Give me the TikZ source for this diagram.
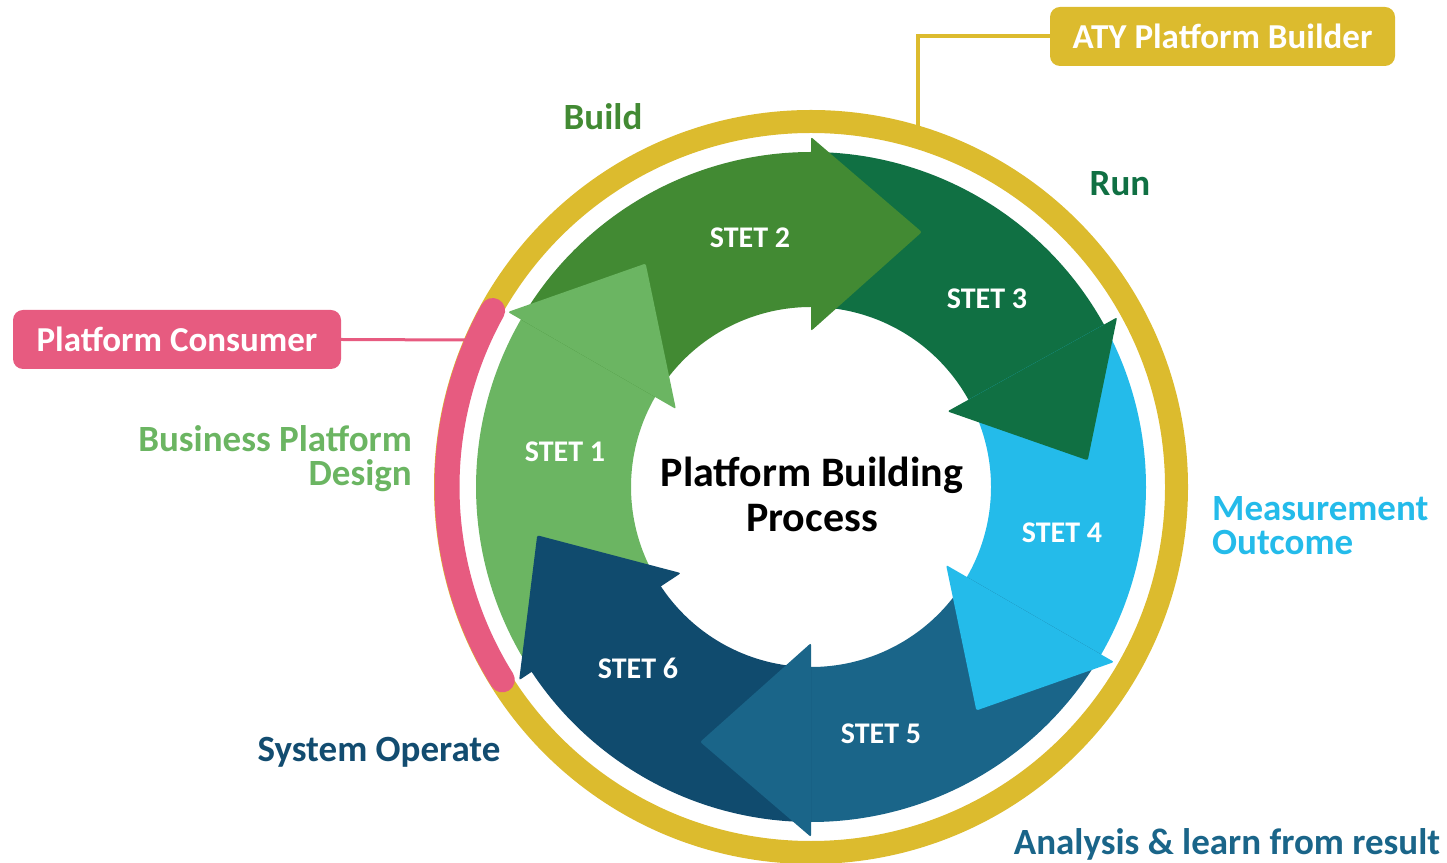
\documentclass[tikz,border=0pt]{standalone}
\usepackage{fontspec}
\setmainfont{Carlito}
\usetikzlibrary{calc}
\definecolor{cS1}{RGB}{107,181,98}
\definecolor{cS2}{RGB}{66,138,51}
\definecolor{cS3}{RGB}{16,112,67}
\definecolor{cS4}{RGB}{36,187,234}
\definecolor{cS5}{RGB}{26,101,137}
\definecolor{cS6}{RGB}{16,75,110}
\definecolor{cYel}{RGB}{220,187,46}
\definecolor{cPink}{RGB}{231,91,128}
\definecolor{cSysOp}{RGB}{18,76,112}
\definecolor{cAnal}{RGB}{26,101,137}
\begin{document}
\begin{tikzpicture}[x=1pt,y=1pt,
  stetlbl/.style={text=white,font=\bfseries\fontsize{30}{30}\selectfont,inner sep=0},
  outlbl/.style={font=\bfseries\fontsize{37}{34}\selectfont,inner sep=0},
  rolebox/.style={rounded corners=10,text=white,font=\bfseries\fontsize{35}{35}\selectfont,
    minimum height=59,inner sep=0}]
\useasboundingbox (0,0) rectangle (1447,862);
\coordinate (C) at (811,375);
% outer ring
\draw[cYel, line width=23] (C) circle[radius=365.5];
\draw[cPink, line width=25, line cap=round] ([shift={(151:364)}]C) arc[start angle=151, end angle=212, radius=364];
% arrow bodies
\foreach \col/\t/\b in {cS1/213.5/150, cS2/150/90, cS3/90/29, cS4/29/-30, cS5/-30/-90, cS6/-90/-146.5}{
  \fill[\col] ([shift={(\t:335)}]C) arc[start angle=\t, end angle=\b-3, radius=335]
     -- ([shift={(\b-3:180)}]C) arc[start angle=\b-3, end angle=\t, radius=180] -- cycle;
}
% arrow heads
\foreach \col/\b in {cS1/150, cS2/90, cS3/29, cS4/-30, cS5/-90, cS6/-146.5}{
  \fill[\col, rounded corners=2] ([shift={(\b:350)}]C) -- ([shift={(\b-23.5:278)}]C)
     -- ([shift={(\b:156)}]C) -- cycle;
}
% step labels
\node[stetlbl] (s1) at (565,410) {STET 1};
\node[stetlbl] (s2) at (750,624) {STET 2};
\node[stetlbl] (s3) at (987,563) {STET 3};
\node[stetlbl] (s4) at (1062,329) {STET 4};
\node[stetlbl] (s5) at (881,128) {STET 5};
\node[stetlbl] (s6) at (638,194) {STET 6};
% centre
\node[font=\bfseries\fontsize{42}{45}\selectfont, align=center, inner sep=0] (centre) at (812,367.5) {Platform Building\\Process};
% outer labels
\node[outlbl, text=cS2] (build) at (603,745) {Build};
\node[outlbl, text=cS3] (run) at (1120,678) {Run};
\node[outlbl, text=cS1, align=right, anchor=east] (bpd) at (412,403.5) {Business Platform\\Design};
\node[outlbl, text=cS4, align=left, anchor=west] (meas) at (1212,336) {Measurement\\Outcome};
\node[outlbl, text=cSysOp] (sysop) at (379,110) {System Operate};
\node[outlbl, text=cAnal] (anal) at (1227,17.5) {Analysis \& learn from result};
% role boxes
\node[rolebox, fill=cYel, minimum width=345] (aty) at (1222.5,825.5) {ATY Platform Builder};
\node[rolebox, fill=cPink, minimum width=328] (cons) at (177,522.5) {Platform Consumer};
\coordinate (atyend) at (917.5,736);
\coordinate (consend) at (466,522);
\draw[cYel, line width=4] (aty.west) -| (atyend);
\draw[cPink, line width=3] (cons.east) -- (consend);
\end{tikzpicture}
\end{document}
